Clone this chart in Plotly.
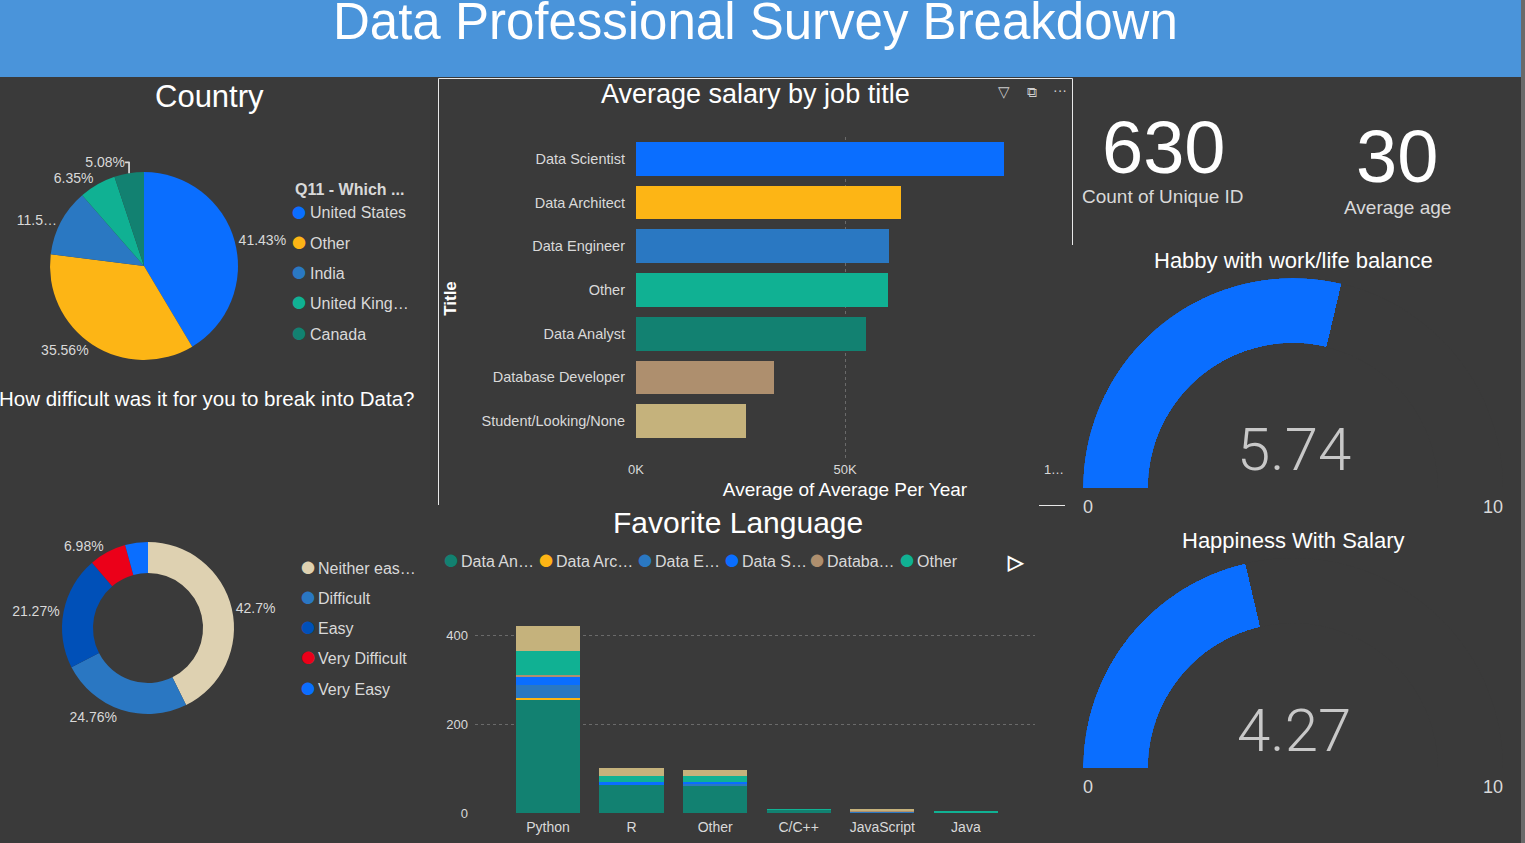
import plotly.graph_objects as go

W, H = 1525, 843
BG = "#3a3a3a"
TXT = "#d9d9d9"
FONT = "Liberation Sans, Arial, sans-serif"

# ---------------- data ----------------
country_labels = ["United States", "Other", "India", "United Kingdom", "Canada"]
country_legend = ["United States", "Other", "India", "United King…", "Canada"]
country_pct = [41.43, 35.56, 11.58, 6.35, 5.08]
country_text = ["41.43%", "35.56%", "11.5…", "6.35%", "5.08%"]
country_colors = ["#0a6eff", "#fdb515", "#2a78c2", "#10b193", "#128171"]

diff_labels = ["Neither easy nor difficult", "Difficult", "Easy", "Very Difficult", "Very Easy"]
diff_legend = ["Neither eas…", "Difficult", "Easy", "Very Difficult", "Very Easy"]
diff_pct = [42.7, 24.76, 21.27, 6.98, 4.29]
diff_text = ["42.7%", "24.76%", "21.27%", "6.98%", ""]
diff_colors = ["#ded1b1", "#2a77c2", "#0050b8", "#eb0019", "#0a6eff"]

job_titles = ["Data Scientist", "Data Architect", "Data Engineer", "Other",
              "Data Analyst", "Database Developer", "Student/Looking/None"]
job_salary = [88000, 63400, 60500, 60300, 55000, 33000, 26300]
job_colors = ["#0a6eff", "#fdb515", "#2a78c2", "#10b193", "#128171", "#ae8f6e", "#c5b27c"]
salary_ticks = [0, 50000, 100000]
salary_ticktext = ["0K", "50K", "1…"]

languages = ["Python", "R", "Other", "C/C++", "JavaScript", "Java"]
lang_series = ["Data Analyst", "Data Architect", "Data Engineer", "Data Scientist",
               "Database Developer", "Other", "Student/Looking/None"]
lang_legend = ["Data An…", "Data Arc…", "Data E…", "Data S…", "Databa…", "Other"]
lang_values = {
    "Data Analyst":         [256, 63, 61, 7, 2, 2],
    "Data Architect":       [2, 0, 0, 0, 0, 0],
    "Data Engineer":        [29, 1, 5, 0, 2, 0],
    "Data Scientist":       [21, 5, 4, 0, 0, 0],
    "Database Developer":   [2, 0, 0, 0, 1, 0],
    "Other":                [54, 15, 13, 2, 0, 1],
    "Student/Looking/None": [57, 18, 13, 0, 2, 0],
}
lang_colors = ["#128171", "#fdb515", "#2a78c2", "#0a6eff", "#ae8f6e", "#10b193", "#c5b27c"]

kpi_values = [630, 30]
kpi_labels = ["Count of Unique ID", "Average age"]

gauge_titles = ["Habby with work/life balance", "Happiness With Salary"]
gauge_values = [5.74, 4.27]
gauge_range = [0, 10]


def px(x):
    return x / W


def py(y):
    return 1 - y / H


fig = go.Figure()

# ---------------- country pie ----------------
fig.add_trace(go.Pie(
    labels=country_labels, values=country_pct, text=country_text,
    textinfo="text", textposition="outside", sort=False, direction="clockwise",
    marker=dict(colors=country_colors, line=dict(width=0)),
    textfont=dict(size=14, color=TXT, family=FONT),
    domain=dict(x=[px(50), px(238)], y=[py(360), py(172)]),
    showlegend=False, hoverinfo="label+percent"))

# ---------------- difficulty donut ----------------
fig.add_trace(go.Pie(
    labels=diff_labels, values=diff_pct, text=diff_text, hole=0.64,
    textinfo="text", textposition="outside", sort=False, direction="clockwise",
    marker=dict(colors=diff_colors, line=dict(width=0)),
    textfont=dict(size=14, color=TXT, family=FONT),
    domain=dict(x=[px(62), px(234)], y=[py(714), py(542)]),
    showlegend=False, hoverinfo="label+percent"))

# ---------------- salary bars ----------------
fig.add_trace(go.Bar(
    x=job_salary, y=job_titles, orientation="h",
    marker=dict(color=job_colors, line=dict(width=0)),
    xaxis="x", yaxis="y", showlegend=False))

# ---------------- language stacked bars ----------------
for name, col in zip(lang_series, lang_colors):
    fig.add_trace(go.Bar(
        x=languages, y=lang_values[name], name=name,
        marker=dict(color=col, line=dict(width=0)),
        xaxis="x2", yaxis="y2", showlegend=False))

# ---------------- gauges (ring bars on half-polar subplots) ----------------
deg_per_unit = 180.0 / (gauge_range[1] - gauge_range[0])
for i, val in enumerate(gauge_values):
    span = (val - gauge_range[0]) * deg_per_unit
    fig.add_trace(go.Barpolar(
        r=[1], theta=[span / 2], width=[span], base=0,
        marker=dict(color="#0a6eff", line=dict(width=0)),
        subplot="polar" if i == 0 else "polar2", showlegend=False,
        hovertext=["%.2f" % val], hoverinfo="text"))

polar_common = dict(
    bgcolor=BG, hole=0.69, sector=[0, 180],
    radialaxis=dict(range=[0, 1], visible=False, showgrid=False),
    angularaxis=dict(direction="clockwise", rotation=180, visible=False,
                     showgrid=False, showline=False, ticks=""),
)
gauge_domains = [(278, 488), (558, 768)]

# ---------------- layout ----------------
shapes = [
    dict(type="rect", xref="paper", yref="paper", x0=0, x1=px(1521), y0=py(77), y1=1,
         fillcolor="#4a94da", line=dict(width=0), layer="below"),
    dict(type="rect", xref="paper", yref="paper", x0=px(1521), x1=1, y0=0, y1=1,
         fillcolor="#6a6a6a", line=dict(width=0), layer="below"),
    dict(type="line", xref="paper", yref="paper", x0=px(438.5), x1=px(438.5), y0=py(505), y1=py(78.5),
         line=dict(color="#e8e8e8", width=1)),
    dict(type="line", xref="paper", yref="paper", x0=px(438.5), x1=px(1072.5), y0=py(78.5), y1=py(78.5),
         line=dict(color="#e8e8e8", width=1)),
    dict(type="line", xref="paper", yref="paper", x0=px(1072.5), x1=px(1072.5), y0=py(78.5), y1=py(245),
         line=dict(color="#e8e8e8", width=1)),
    dict(type="line", xref="paper", yref="paper", x0=px(1039), x1=px(1065), y0=py(505.5), y1=py(505.5),
         line=dict(color="#e8e8e8", width=1)),
]


def ann(text, x, y, size, color="#ffffff", xanchor="center", bold=False, family=FONT):
    return dict(text=("<b>%s</b>" % text) if bold else text, x=px(x), y=py(y),
                xref="paper", yref="paper", xanchor=xanchor, yanchor="middle",
                showarrow=False, font=dict(size=size, color=color, family=family))


def legend_item(label, color, mx, tx, y, size=16):
    dot = ann("●", mx, y - 2.5, 29, color=color)
    dot.update(height=18, width=16, valign="middle")
    return [dot, ann(label, tx, y, size, color=TXT, xanchor="left")]


annotations = [
    ann("Data Professional Survey Breakdown", 755, 21, 51),
    ann("Country", 209, 97, 31),
    ann("Average salary by job title", 755, 94, 27),
    ann("How difficult was it for you to break into Data?", 207, 399, 20.5),
    ann("Favorite Language", 738, 522, 30),
    ann(str(kpi_values[0]), 1163, 147, 74),
    ann(kpi_labels[0], 1163, 196, 19, color=TXT),
    ann(str(kpi_values[1]), 1397, 157, 74),
    ann(kpi_labels[1], 1397, 207, 19, color=TXT),
    ann("▽", 1004, 92, 15, color="#cfcfcf"),
    ann("⧉", 1032, 92, 14, color="#cfcfcf"),
    ann("···", 1060, 90, 14, color="#cfcfcf"),
    ann("▷", 1016, 562, 20, color="#ffffff", bold=True),
    ann("<b>Q11 - Which ...</b>", 293, 189, 16, color=TXT, xanchor="left"),
]

for i, (lab, col) in enumerate(zip(country_legend, country_colors)):
    annotations += legend_item(lab, col, 299, 308, 213 + i * 30.3)
for i, (lab, col) in enumerate(zip(diff_legend, diff_colors)):
    annotations += legend_item(lab, col, 308, 316, 568 + i * 30.3)
lang_marker_x = [451, 546, 645, 732, 817, 907]
for lab, col, mx in zip(lang_legend, lang_colors, lang_marker_x):
    annotations += legend_item(lab, col, mx, mx + 8, 561)

for i, (title, val) in enumerate(zip(gauge_titles, gauge_values)):
    t, b = gauge_domains[i]
    annotations.append(ann(title, 1293, t - 18, 22))
    annotations.append(ann("%.2f" % val, 1294, b - 38, 60, color="#c8c8c8", family="Roboto"))
    annotations[-1]["font"]["weight"] = 300
    annotations.append(ann(str(gauge_range[0]), 1088, b + 19, 18, color=TXT))
    annotations.append(ann(str(gauge_range[1]), 1493, b + 19, 18, color=TXT))

layout_polars = {}
for i, (t, b) in enumerate(gauge_domains):
    key = "polar" if i == 0 else "polar2"
    d = dict(polar_common)
    d["domain"] = dict(x=[px(1083), px(1503)], y=[py(b), py(t)])
    layout_polars[key] = d

fig.update_layout(
    width=W, height=H, margin=dict(l=0, r=0, t=0, b=0, autoexpand=False),
    paper_bgcolor=BG, plot_bgcolor=BG, showlegend=False,
    font=dict(family=FONT, color=TXT),
    barmode="stack", bargap=0.23,
    shapes=shapes, annotations=annotations,
    xaxis=dict(domain=[px(636), px(1054)], range=[0, 100000], tickvals=salary_ticks,
               ticktext=salary_ticktext, showgrid=True, gridcolor="#6a6a6a", griddash="dot",
               zeroline=False, showline=False, ticks="", tickfont=dict(size=13, color=TXT),
               title=dict(text="Average of Average Per Year", font=dict(size=19, color="#ffffff"),
                          standoff=6),
               anchor="y", fixedrange=True),
    yaxis=dict(domain=[py(460), py(137)], range=[6.89, -0.5], type="category",
               categoryorder="array", categoryarray=job_titles,
               showgrid=False, zeroline=False, ticks="", ticklabelstandoff=10,
               tickfont=dict(size=14.5, color=TXT),
               title=dict(text="<b>Title</b>", font=dict(size=17, color="#ffffff"), standoff=20),
               anchor="x", fixedrange=True),
    xaxis2=dict(domain=[px(475), px(1035)], range=[-0.873, 5.827], type="category",
                categoryorder="array", categoryarray=languages,
                showgrid=False, zeroline=False, showline=False, ticks="", ticklabelstandoff=4,
                tickfont=dict(size=14, color=TXT), anchor="y2", fixedrange=True),
    yaxis2=dict(domain=[py(813), py(604)], range=[0, 470], tickvals=[0, 200, 400],
                showgrid=True, gridcolor="#6a6a6a", griddash="dot", zeroline=False,
                ticks="", ticklabelstandoff=6, tickfont=dict(size=13, color=TXT),
                anchor="x2", fixedrange=True),
    **layout_polars,
)

fig.write_html("out.html")
